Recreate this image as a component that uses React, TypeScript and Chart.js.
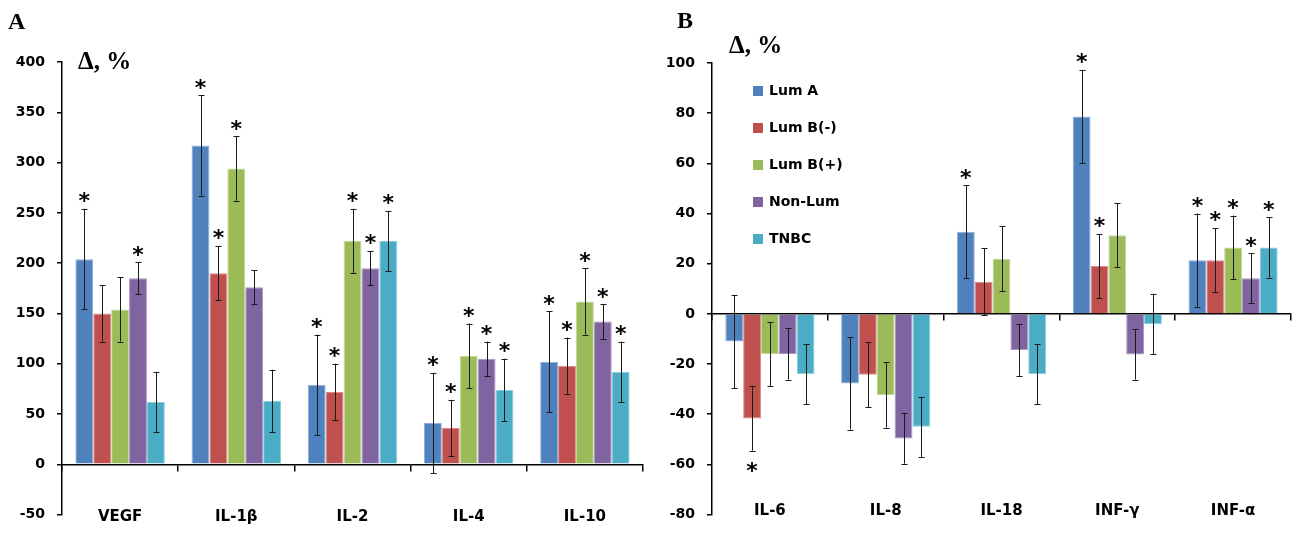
import React, { useEffect, useRef } from 'react';
import { Chart, registerables } from 'chart.js';

Chart.register(...registerables);

// ---------- data ----------
const seriesLabels = ['Lum A', 'Lum B(-)', 'Lum B(+)', 'Non-Lum', 'TNBC'];
const seriesColors = ['#4F81BD', '#C0504D', '#9BBB59', '#8064A2', '#4BACC6'];
const seriesEdges = ['#8FAEDA', '#D98D8B', '#C3D99A', '#AA95C4', '#8ACCE0'];

// Panel A
const categoriesA = ['VEGF', 'IL-1β', 'IL-2', 'IL-4', 'IL-10'];
const lumA_A = [204, 317, 79, 41, 102];
const lumBneg_A = [150, 190, 72, 36, 98];
const lumBpos_A = [154, 294, 222, 108, 162];
const nonLum_A = [185, 176, 195, 105, 142];
const tnbc_A = [62, 63, 222, 74, 92];
const lumA_A_err = [50, 50, 50, 50, 50];
const lumBneg_A_err = [28, 27, 28, 28, 28];
const lumBpos_A_err = [32, 32, 32, 32, 33];
const nonLum_A_err = [16, 17, 17, 17, 17];
const tnbc_A_err = [30, 31, 30, 31, 30];
const lumA_A_star = [1, 1, 1, 1, 1];
const lumBneg_A_star = [0, 1, 1, 1, 1];
const lumBpos_A_star = [0, 1, 1, 1, 1];
const nonLum_A_star = [1, 0, 1, 1, 1];
const tnbc_A_star = [0, 0, 1, 1, 1];
const yTicksA = { min: -50, max: 400, step: 50 };

// Panel B
const categoriesB = ['IL-6', 'IL-8', 'IL-18', 'INF-γ', 'INF-α'];
const lumA_B = [-11, -27.7, 32.7, 78.7, 21.4];
const lumBneg_B = [-41.7, -24.3, 12.8, 19.1, 21.4];
const lumBpos_B = [-16, -32.3, 22, 31.3, 26.5];
const nonLum_B = [-16, -49.7, -14.4, -16.2, 14.2];
const tnbc_B = [-24, -45, -24, -4, 26.5];
const lumA_B_err = [18.6, 18.4, 18.5, 18.6, 18.6];
const lumBneg_B_err = [12.8, 13, 13.3, 12.8, 12.8];
const lumBpos_B_err = [12.7, 13, 13, 12.7, 12.7];
const nonLum_B_err = [10.2, 10, 10.3, 10, 10];
const tnbc_B_err = [12, 12, 12, 12, 12];
const lumA_B_star = [0, 0, 1, 1, 1];
const lumBneg_B_star = [1, 0, 0, 1, 1];
const lumBpos_B_star = [0, 0, 0, 0, 1];
const nonLum_B_star = [0, 0, 0, 0, 1];
const tnbc_B_star = [0, 0, 0, 0, 1];
const yTicksB = { min: -80, max: 100, step: 20 };

// ---------- plugins ----------
const errorBarPlugin = {
  id: 'errorBars',
  afterDatasetsDraw(chart: any) {
    const ctx = chart.ctx;
    const y = chart.scales.y;
    chart.data.datasets.forEach((ds: any, i: number) => {
      const meta = chart.getDatasetMeta(i);
      meta.data.forEach((bar: any, j: number) => {
        const v = ds.data[j];
        const e = ds.errors[j];
        const yTop = y.getPixelForValue(v + e);
        const yBot = y.getPixelForValue(v - e);
        const x = Math.round(bar.x) + 0.5;
        ctx.save();
        ctx.strokeStyle = '#1a1a1a';
        ctx.lineWidth = 1;
        ctx.beginPath();
        ctx.moveTo(x, yTop);
        ctx.lineTo(x, yBot);
        ctx.moveTo(x - 3, Math.round(yTop) + 0.5);
        ctx.lineTo(x + 3, Math.round(yTop) + 0.5);
        ctx.moveTo(x - 3, Math.round(yBot) + 0.5);
        ctx.lineTo(x + 3, Math.round(yBot) + 0.5);
        ctx.stroke();
        if (ds.stars[j]) {
          ctx.font = 'bold 22px "DejaVu Sans"';
          ctx.fillStyle = '#000';
          ctx.textAlign = 'center';
          ctx.textBaseline = 'alphabetic';
          const cy = v >= 0 ? yTop - 13 : yBot + 15;
          ctx.fillText('*', bar.x, cy + 12.4);
        }
        ctx.restore();
      });
    });
  },
};

const legendPlugin = {
  id: 'insideLegend',
  afterDraw(chart: any) {
    const opts = chart.options.plugins.insideLegend;
    if (!opts || !opts.show) return;
    const ctx = chart.ctx;
    ctx.save();
    chart.data.datasets.forEach((ds: any, i: number) => {
      const cy = opts.y + i * opts.gap;
      ctx.fillStyle = ds.backgroundColor;
      ctx.fillRect(opts.x, cy - 5, 10, 10);
      ctx.fillStyle = '#000';
      ctx.font = 'bold 14px "DejaVu Sans"';
      ctx.textAlign = 'left';
      ctx.textBaseline = 'middle';
      ctx.fillText(ds.label, opts.x + 16, cy);
    });
    ctx.restore();
  },
};

function buildDatasets(values: number[][], errs: number[][], stars: number[][]) {
  return values.map((vals, i) => ({
    label: seriesLabels[i],
    data: vals,
    errors: errs[i],
    stars: stars[i],
    backgroundColor: seriesColors[i],
    borderColor: seriesEdges[i],
    borderWidth: 1,
    categoryPercentage: 0.77,
    barPercentage: 1,
  }));
}

function buildConfig(
  categories: string[],
  datasets: any[],
  yt: { min: number; max: number; step: number },
  padding: any,
  labelPad: number,
  legend: any
) {
  const tickFont = { family: 'DejaVu Sans', size: 14, weight: 'bold' as const };
  return {
    type: 'bar' as const,
    data: { labels: categories, datasets },
    options: {
      responsive: false,
      animation: false as const,
      layout: { padding },
      plugins: {
        legend: { display: false },
        tooltip: { enabled: false },
        insideLegend: legend,
      },
      scales: {
        x: {
          position: { y: 0 },
          grid: {
            display: true,
            drawOnChartArea: false,
            drawTicks: true,
            tickLength: 6,
            color: '#000',
            lineWidth: 1.5,
            offset: true,
          },
          border: { display: true, color: '#000', width: 1.5 },
          ticks: {
            font: { family: 'DejaVu Sans', size: 15, weight: 'bold' as const },
            color: '#000',
            padding: labelPad,
            maxRotation: 0,
          },
          afterFit: (s: any) => {
            s.paddingLeft = 0;
            s.paddingRight = 0;
          },
        },
        y: {
          min: yt.min,
          max: yt.max,
          ticks: { stepSize: yt.step, font: tickFont, color: '#000', padding: 12 },
          grid: { drawOnChartArea: false, tickLength: 5, color: '#000', lineWidth: 1.5 },
          border: { display: true, color: '#000', width: 1.5 },
          afterFit: (s: any) => {
            s.width = 62;
          },
        },
      },
    },
    plugins: [errorBarPlugin, legendPlugin],
  };
}

function Panel(props: { config: any; left: number; width: number }) {
  const ref = useRef<HTMLCanvasElement>(null);
  useEffect(() => {
    if (!ref.current) return;
    const chart = new Chart(ref.current, props.config);
    return () => chart.destroy();
  }, []);
  return (
    <canvas
      ref={ref}
      width={props.width}
      height={535}
      style={{ position: 'absolute', left: props.left, top: 0, width: props.width, height: 535 }}
    />
  );
}

const labelStyle: React.CSSProperties = {
  position: 'absolute',
  fontFamily: '"Liberation Serif", serif',
  fontWeight: 'bold',
  color: '#000',
  whiteSpace: 'nowrap',
  lineHeight: 1,
};

export default function App() {
  const configA = buildConfig(
    categoriesA,
    buildDatasets(
      [lumA_A, lumBneg_A, lumBpos_A, nonLum_A, tnbc_A],
      [lumA_A_err, lumBneg_A_err, lumBpos_A_err, nonLum_A_err, tnbc_A_err],
      [lumA_A_star, lumBneg_A_star, lumBpos_A_star, nonLum_A_star, tnbc_A_star]
    ),
    yTicksA,
    { left: 0, right: 7, top: 62, bottom: 8 },
    38,
    { show: false }
  );
  const configB = buildConfig(
    categoriesB,
    buildDatasets(
      [lumA_B, lumBneg_B, lumBpos_B, nonLum_B, tnbc_B],
      [lumA_B_err, lumBneg_B_err, lumBpos_B_err, nonLum_B_err, tnbc_B_err],
      [lumA_B_star, lumBneg_B_star, lumBpos_B_star, nonLum_B_star, tnbc_B_star]
    ),
    yTicksB,
    { left: 0, right: 6, top: 63, bottom: 17 },
    182,
    { show: true, x: 103, y: 91, gap: 37 }
  );
  return (
    <div style={{ position: 'fixed', left: 0, top: 0, width: 1297, height: 535, background: '#fff', overflow: 'hidden' }}>
      <Panel config={configA} left={0} width={650} />
      <Panel config={configB} left={650} width={647} />
      <div style={{ ...labelStyle, left: 8, top: 9, fontSize: 24 }}>A</div>
      <div style={{ ...labelStyle, left: 677, top: 8, fontSize: 24 }}>B</div>
      <div style={{ ...labelStyle, left: 78, top: 48, fontSize: 25 }}>Δ, %</div>
      <div style={{ ...labelStyle, left: 729, top: 32, fontSize: 25 }}>Δ, %</div>
    </div>
  );
}
